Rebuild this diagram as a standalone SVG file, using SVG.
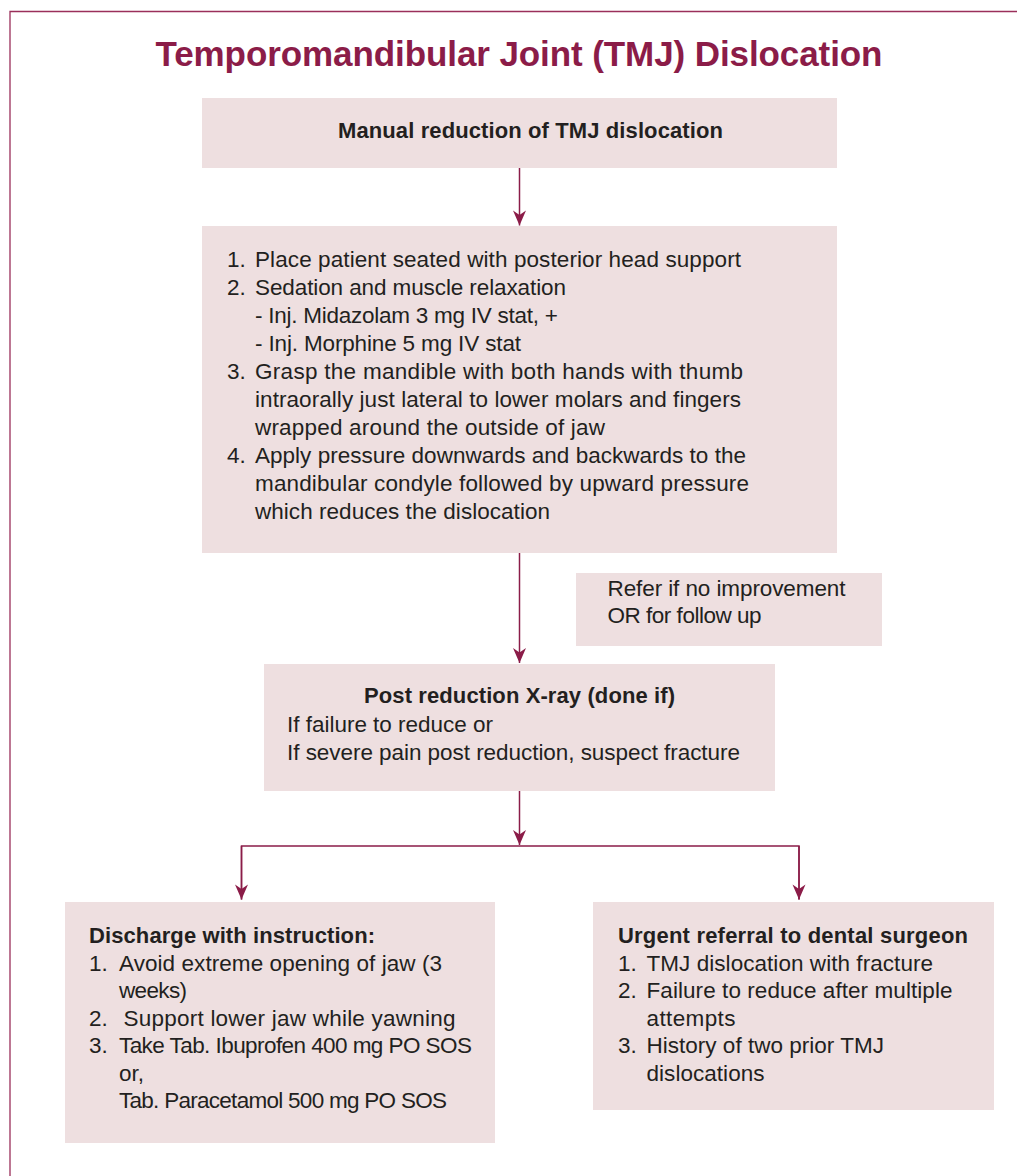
<svg xmlns="http://www.w3.org/2000/svg" width="1017" height="1176" viewBox="0 0 1017 1176">
  <style>
    .box { fill: #eedfe0; }
    .t { font-family: "Liberation Sans", Arial, sans-serif; font-size: 22.5px; fill: #231f20; }
    .b { font-family: "Liberation Sans", Arial, sans-serif; font-size: 22px; font-weight: bold; fill: #231f20; }
    .title { font-family: "Liberation Sans", Arial, sans-serif; font-size: 35px; font-weight: bold; fill: #8b1c48; }
    .wire { fill: none; stroke: #8b1c48; stroke-width: 1.5; }
    .frame { fill: none; stroke: #9a2f5a; stroke-width: 1.3; }
  </style>
  <defs>
    <marker id="head" viewBox="-16 -8 17 16" refX="0" refY="0" markerWidth="17" markerHeight="16" markerUnits="userSpaceOnUse" orient="auto">
      <path d="M0,0 L-15,-6.5 L-10.5,0 L-15,6.5 Z" fill="#8b1c48"/>
    </marker>
  </defs>

  <rect width="1017" height="1176" fill="#ffffff"/>

  <!-- page frame: left and top rules -->
  <path class="frame" d="M10,1176 V11.5 H1017"/>

  <text class="title" x="155.5" y="66" textLength="727">Temporomandibular Joint (TMJ) Dislocation</text>

  <!-- connectors -->
  <g id="connectors">
    <path class="wire" d="M519.5,168 V225.5" marker-end="url(#head)"/>
    <path class="wire" d="M519.5,553 V663" marker-end="url(#head)"/>
    <path class="wire" d="M519.5,791 V845" marker-end="url(#head)"/>
    <path class="wire" d="M241.5,899.5 V846 H799 V899.5"/>
    <path class="wire" d="M241.5,846 V899.5" marker-end="url(#head)"/>
    <path class="wire" d="M799,846 V899.5" marker-end="url(#head)"/>
  </g>

  <g id="manual-reduction">
    <rect class="box" x="202" y="98" width="635" height="70"/>
    <text class="b" x="338" y="138" textLength="385">Manual reduction of TMJ dislocation</text>
  </g>

  <g id="procedure">
    <rect class="box" x="202" y="226" width="635" height="327"/>
    <text class="t" x="227" y="267">1.</text>
    <text class="t" x="255" y="267" textLength="486">Place patient seated with posterior head support</text>
    <text class="t" x="227" y="295">2.</text>
    <text class="t" x="255" y="295" textLength="311">Sedation and muscle relaxation</text>
    <text class="t" x="255" y="323" textLength="303">- Inj. Midazolam 3 mg IV stat, +</text>
    <text class="t" x="255" y="351" textLength="266">- Inj. Morphine 5 mg IV stat</text>
    <text class="t" x="227" y="379">3.</text>
    <text class="t" x="255" y="379" textLength="488">Grasp the mandible with both hands with thumb</text>
    <text class="t" x="255" y="407" textLength="486">intraorally just lateral to lower molars and fingers</text>
    <text class="t" x="255" y="435" textLength="350">wrapped around the outside of jaw</text>
    <text class="t" x="227" y="463">4.</text>
    <text class="t" x="255" y="463" textLength="491">Apply pressure downwards and backwards to the</text>
    <text class="t" x="255" y="491" textLength="494">mandibular condyle followed by upward pressure</text>
    <text class="t" x="255" y="519" textLength="295">which reduces the dislocation</text>
  </g>

  <g id="refer-note">
    <rect class="box" x="576" y="573" width="306" height="73"/>
    <text class="t" x="607.5" y="596" textLength="238">Refer if no improvement</text>
    <text class="t" x="607.5" y="623" textLength="154">OR for follow up</text>
  </g>

  <g id="post-xray">
    <rect class="box" x="264" y="664" width="511" height="127"/>
    <text class="b" x="364" y="703" textLength="311">Post reduction X-ray (done if)</text>
    <text class="t" x="287" y="731.5" textLength="206">If failure to reduce or</text>
    <text class="t" x="287" y="759.5" textLength="453">If severe pain post reduction, suspect fracture</text>
  </g>

  <g id="discharge">
    <rect class="box" x="65" y="902" width="430" height="241"/>
    <text class="b" x="89" y="943" textLength="286">Discharge with instruction:</text>
    <text class="t" x="89" y="970.5">1.</text>
    <text class="t" x="119" y="970.5" textLength="323">Avoid extreme opening of jaw (3</text>
    <text class="t" x="119" y="998" textLength="68">weeks)</text>
    <text class="t" x="89" y="1025.5">2.</text>
    <text class="t" x="123.5" y="1025.5" textLength="332">Support lower jaw while yawning</text>
    <text class="t" x="89" y="1053">3.</text>
    <text class="t" x="119" y="1053" textLength="353">Take Tab. Ibuprofen 400 mg PO SOS</text>
    <text class="t" x="119" y="1080.5">or,</text>
    <text class="t" x="119" y="1108" textLength="328">Tab. Paracetamol 500 mg PO SOS</text>
  </g>

  <g id="urgent-referral">
    <rect class="box" x="593" y="902" width="401" height="208"/>
    <text class="b" x="618" y="943" textLength="350">Urgent referral to dental surgeon</text>
    <text class="t" x="618" y="970.5">1.</text>
    <text class="t" x="646.5" y="970.5" textLength="286.5">TMJ dislocation with fracture</text>
    <text class="t" x="618" y="998">2.</text>
    <text class="t" x="646.5" y="998" textLength="306">Failure to reduce after multiple</text>
    <text class="t" x="646.5" y="1025.5" textLength="89">attempts</text>
    <text class="t" x="618" y="1053">3.</text>
    <text class="t" x="646.5" y="1053" textLength="237.5">History of two prior TMJ</text>
    <text class="t" x="646.5" y="1080.5" textLength="118">dislocations</text>
  </g>
</svg>
